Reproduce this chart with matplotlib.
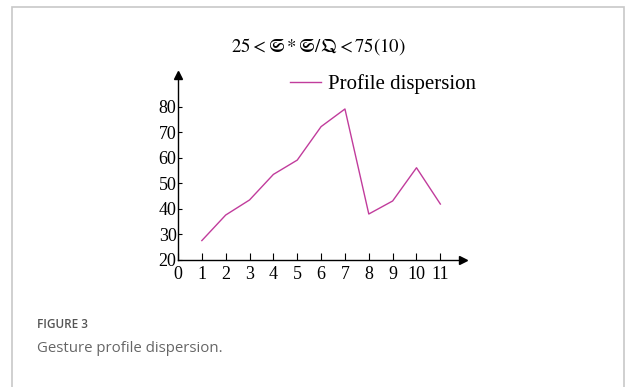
import numpy as np
import matplotlib
matplotlib.use('Agg')
import matplotlib.pyplot as plt
from matplotlib.patches import Rectangle

# Dane
x_vals = [1, 2, 3, 4, 5, 6, 7, 8, 9, 10, 11]
dispersion = [27.6, 37.6, 43.5, 53.5, 59.1, 72.2, 79.1, 38.0, 43.1, 56.1, 41.9]
x_ticks = list(range(0, 12))
y_ticks = [20, 30, 40, 50, 60, 70, 80]
series_name = "Profile dispersion"
title_text = r"$25 < \mathfrak{S} * \mathfrak{S}/\mathfrak{Q} < 75(10)$"
caption_head = "FIGURE 3"
caption_text = "Gesture profile dispersion."

plt.rcParams['mathtext.fontset'] = 'stix'
serif = ['Liberation Serif', 'DejaVu Serif']
line_color = '#c13c9c'

fig = plt.figure(figsize=(6.25, 3.87), dpi=100)
W, H = 625, 387

# ramka karty
fig.patches.append(Rectangle((12 / W, -0.05), (623.5 - 12) / W, 1.05 - 7 / H,
                             transform=fig.transFigure, fill=False,
                             edgecolor='#c8c8c8', linewidth=1.2))

ax = fig.add_axes([178 / W, 1 - 260 / H, (463 - 178) / W, (260 - 75) / H])
ax.plot(x_vals, dispersion, color=line_color, lw=1.0, label=series_name)
ax.set_xlim(0, 11.95)
ax.set_ylim(20, 92.4)

ax.spines['top'].set_visible(False)
ax.spines['right'].set_visible(False)
ax.spines['left'].set_linewidth(1.0)
ax.spines['bottom'].set_linewidth(1.0)

# strzalki osi
ax.plot(1, 0, '>', color='black', ms=6, transform=ax.transAxes, clip_on=False)
ax.plot(0, 1, '^', color='black', ms=6, transform=ax.transAxes, clip_on=False)

ax.set_xticks(x_ticks)
ax.set_yticks(y_ticks)
ax.set_xticklabels([str(t) for t in x_ticks], family=serif, fontsize=13)
ax.set_yticklabels([str(t) for t in y_ticks], family=serif, fontsize=13)
ax.tick_params(axis='x', direction='in', length=5, width=0.8, pad=4)
ax.tick_params(axis='y', direction='in', length=3, width=0.8, pad=1)

leg = ax.legend(loc='upper left', bbox_to_anchor=(290 / W, 1 - 74 / H),
                bbox_transform=fig.transFigure, frameon=False, borderpad=0,
                borderaxespad=0, handlelength=1.5, handletextpad=0.3,
                prop={'family': serif, 'size': 15})

fig.text(318 / W, 1 - 47 / H, title_text, ha='center', va='center', fontsize=13.5)

fig.text(37 / W, 1 - 325 / H, caption_head, ha='left', va='center',
         fontsize=8.5, color='#555555', family='Open Sans', weight='semibold')
fig.text(37 / W, 1 - 348 / H, caption_text, ha='left', va='center',
         fontsize=10.8, color='#666666', family='Open Sans')

fig.savefig('out.png', dpi=100, facecolor='white')
